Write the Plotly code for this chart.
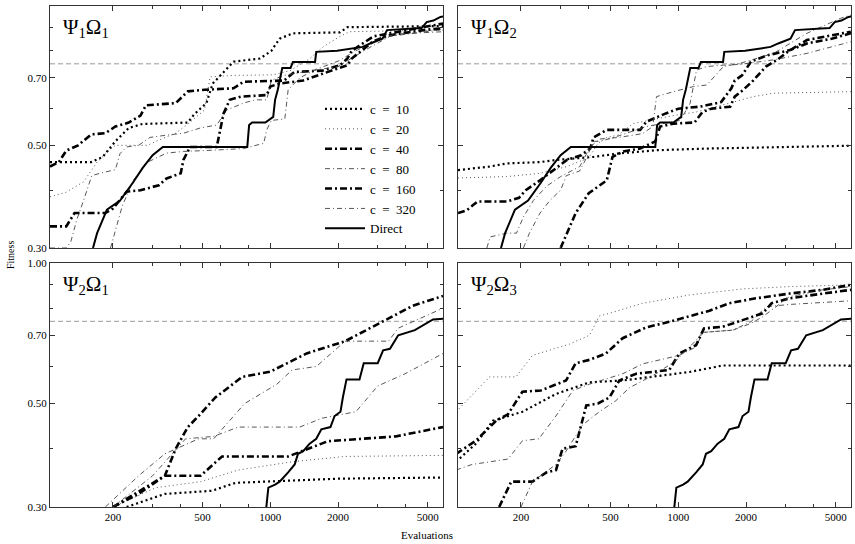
import plotly.graph_objects as go
import math

# ---------------- data ----------------
c_labels = ["c\u00a0\u00a0=\u00a0\u00a010", "c\u00a0\u00a0=\u00a0\u00a020", "c\u00a0\u00a0=\u00a0\u00a040",
            "c\u00a0\u00a0=\u00a0\u00a080", "c\u00a0\u00a0=\u00a0\u00a0160", "c\u00a0\u00a0=\u00a0\u00a0320"]
direct_label = "Direct"
panel_titles = ["Ψ<sub>1</sub>Ω<sub>1</sub>", "Ψ<sub>1</sub>Ω<sub>2</sub>",
                "Ψ<sub>2</sub>Ω<sub>1</sub>", "Ψ<sub>2</sub>Ω<sub>3</sub>"]
x_tick_vals = [200, 500, 1000, 2000, 5000]
x_minor_vals = [300, 400, 600, 800, 3000, 4000]
y_tick_vals = [0.3, 0.5, 0.7, 1.0]
y_tick_text = ["0.30", "0.50", "0.70", "1.00"]
y_minor_vals = [0.4, 0.6, 0.8, 0.9]
x_limits = [105, 5850]
y_limits = [0.3, 1.0]
threshold = 0.75

# Direct (depends only on Psi)
direct_psi1_x = [163, 170, 188, 215, 245, 271, 300, 333, 790, 805, 830, 950, 1030, 1050, 1080, 1130, 1230, 1260,
                 1580, 1600, 1980, 2250, 2570, 2780, 3150, 3300, 4700, 4950, 5300, 5700, 5900]
direct_psi1_y = [0.30, 0.323, 0.363, 0.38, 0.415, 0.447, 0.476, 0.496, 0.496, 0.553, 0.56, 0.56, 0.576, 0.627,
                 0.66, 0.735, 0.735, 0.757, 0.757, 0.796, 0.80, 0.808, 0.816, 0.83, 0.85, 0.887, 0.896, 0.923,
                 0.93, 0.947, 0.95]
direct_psi2_x = [960, 980, 1050, 1100, 1200, 1283, 1327, 1400, 1495, 1600, 1685, 1850, 1930, 2050, 2100, 2180,
                 2490, 2600, 3000, 3170, 3400, 3700, 4385, 5285, 5860]
direct_psi2_y = [0.30, 0.33, 0.335, 0.34, 0.356, 0.37, 0.39, 0.395, 0.41, 0.42, 0.44, 0.445, 0.47, 0.48, 0.515,
                 0.563, 0.563, 0.61, 0.61, 0.65, 0.655, 0.70, 0.718, 0.757, 0.76]

# Psi1 Omega1
p11_c10_x = [105, 160, 180, 205, 235, 270, 430, 460, 520, 555, 686, 900, 1010, 1100, 1260, 2040, 2200, 5900]
p11_c10_y = [0.46, 0.46, 0.472, 0.51, 0.545, 0.556, 0.56, 0.584, 0.617, 0.68, 0.758, 0.77, 0.80, 0.85, 0.873,
             0.877, 0.90, 0.905]
p11_c20_x = [105, 124, 148, 170, 190, 205, 285, 310, 380, 430, 510, 540, 686, 1032, 1225, 1500, 1722, 2043,
             2250, 5900]
p11_c20_y = [0.387, 0.396, 0.417, 0.46, 0.485, 0.50, 0.50, 0.51, 0.531, 0.556, 0.596, 0.703, 0.708, 0.71,
             0.725, 0.77, 0.817, 0.86, 0.88, 0.887]
p11_c40_x = [105, 115, 124, 140, 160, 185, 205, 235, 265, 280, 380, 430, 510, 686, 760, 1150, 1280, 1700, 2040,
             2200, 2300, 2873, 3400, 4790, 5900]
p11_c40_y = [0.45, 0.46, 0.487, 0.50, 0.528, 0.531, 0.549, 0.56, 0.58, 0.61, 0.617, 0.654, 0.659, 0.664, 0.686,
             0.69, 0.72, 0.725, 0.745, 0.77, 0.80, 0.86, 0.873, 0.90, 0.917]
p11_c80_x = [105, 124, 130, 138, 148, 161, 175, 205, 215, 230, 260, 292, 346, 411, 488, 578, 640, 760, 860, 964,
             1010, 1143, 1400, 2000, 2600, 3400, 5900]
p11_c80_y = [0.30, 0.30, 0.31, 0.345, 0.38, 0.43, 0.435, 0.443, 0.48, 0.496, 0.50, 0.52, 0.526, 0.531, 0.545,
             0.553, 0.596, 0.617, 0.627, 0.627, 0.69, 0.708, 0.72, 0.74, 0.80, 0.86, 0.89]
p11_c160_x = [105, 124, 135, 185, 200, 215, 230, 265, 320, 346, 400, 411, 440, 578, 600, 620, 660, 740, 964,
              1000, 1100, 1400, 1722, 2200, 2300, 2873, 3400, 4790, 5900]
p11_c160_y = [0.334, 0.334, 0.357, 0.357, 0.365, 0.381, 0.397, 0.40, 0.41, 0.424, 0.435, 0.465, 0.496, 0.496,
              0.54, 0.586, 0.627, 0.637, 0.642, 0.67, 0.68, 0.69, 0.715, 0.745, 0.77, 0.84, 0.865, 0.887, 0.896]
p11_c320_x = [195, 220, 246, 285, 346, 411, 555, 760, 935, 964, 1010, 1160, 1200, 1355, 1600, 2000, 2400, 2900,
              3600, 5900]
p11_c320_y = [0.30, 0.37, 0.42, 0.46, 0.481, 0.485, 0.488, 0.492, 0.505, 0.54, 0.566, 0.57, 0.659, 0.70, 0.73,
              0.76, 0.80, 0.84, 0.87, 0.88]

# Psi1 Omega2
p12_c10_x = [105, 146, 173, 243, 288, 420, 540, 802, 1338, 2650, 5840]
p12_c10_y = [0.442, 0.45, 0.457, 0.46, 0.465, 0.472, 0.48, 0.488, 0.492, 0.495, 0.499]
p12_c20_x = [105, 173, 243, 320, 400, 440, 481, 540, 630, 951, 1200, 1650, 2150, 2650, 5840]
p12_c20_y = [0.425, 0.428, 0.435, 0.45, 0.47, 0.505, 0.52, 0.526, 0.557, 0.58, 0.59, 0.616, 0.637, 0.648, 0.653]
p12_c40_x = [105, 115, 128, 173, 196, 210, 243, 275, 320, 370, 406, 420, 481, 677, 720, 880, 1000, 1250, 1550,
             1720, 1780, 1920, 2100, 2500, 3140, 3725, 4800, 5840]
p12_c40_y = [0.357, 0.362, 0.378, 0.378, 0.385, 0.40, 0.42, 0.44, 0.465, 0.476, 0.492, 0.52, 0.54, 0.54, 0.562,
             0.586, 0.60, 0.606, 0.62, 0.664, 0.69, 0.708, 0.758, 0.783, 0.803, 0.83, 0.85, 0.873]
p12_c80_x = [141, 146, 173, 191, 205, 227, 260, 300, 365, 406, 447, 544, 694, 770, 800, 951, 1170, 1338, 1587,
             1883, 2650, 3725, 5240, 5840]
p12_c80_y = [0.30, 0.317, 0.323, 0.323, 0.35, 0.38, 0.408, 0.428, 0.45, 0.496, 0.516, 0.52, 0.53, 0.549, 0.637,
             0.653, 0.67, 0.675, 0.74, 0.752, 0.79, 0.873, 0.94, 0.956]
p12_c160_x = [300, 320, 350, 400, 440, 481, 510, 570, 677, 790, 830, 951, 1180, 1280, 1400, 1700, 1780, 1950,
              2150, 2450, 2750, 3100, 3725, 4420, 5840]
p12_c160_y = [0.30, 0.323, 0.357, 0.394, 0.408, 0.42, 0.472, 0.485, 0.492, 0.51, 0.549, 0.557, 0.56, 0.59, 0.60,
              0.606, 0.637, 0.66, 0.69, 0.74, 0.765, 0.80, 0.844, 0.858, 0.88]
p12_c320_x = [205, 218, 243, 270, 300, 318, 364, 393, 420, 450, 518, 590, 720, 1020, 1128, 1205, 1338, 1587,
              1883, 2650, 3725, 5840]
p12_c320_y = [0.30, 0.323, 0.357, 0.381, 0.40, 0.43, 0.44, 0.472, 0.51, 0.51, 0.52, 0.531, 0.549, 0.566, 0.616,
              0.727, 0.74, 0.745, 0.748, 0.765, 0.79, 0.837]

# Psi2 Omega1
p21_c10_x = [230, 340, 550, 700, 2000, 5850]
p21_c10_y = [0.30, 0.32, 0.325, 0.338, 0.345, 0.347]
p21_c20_x = [200, 310, 490, 720, 1250, 2150, 5850]
p21_c20_y = [0.30, 0.33, 0.34, 0.36, 0.375, 0.385, 0.387]
p21_c40_x = [200, 260, 340, 380, 430, 480, 570, 750, 1000, 1450, 2150, 3000, 4300, 5850]
p21_c40_y = [0.30, 0.32, 0.35, 0.40, 0.445, 0.47, 0.515, 0.57, 0.585, 0.64, 0.68, 0.74, 0.81, 0.85]
p21_c80_x = [185, 260, 340, 480, 560, 770, 1070, 1250, 1600, 2150, 3350, 3700, 5850]
p21_c80_y = [0.30, 0.35, 0.39, 0.42, 0.42, 0.50, 0.55, 0.59, 0.60, 0.68, 0.68, 0.725, 0.80]
p21_c160_x = [200, 340, 490, 610, 1200, 1800, 3600, 5850]
p21_c160_y = [0.30, 0.35, 0.35, 0.385, 0.385, 0.415, 0.425, 0.445]
p21_c320_x = [200, 300, 420, 560, 720, 1350, 1700, 2400, 3000, 4000, 5850]
p21_c320_y = [0.30, 0.35, 0.42, 0.425, 0.445, 0.445, 0.465, 0.48, 0.545, 0.58, 0.64]

# Psi2 Omega3
p23_c10_x = [103, 126, 150, 203, 286, 403, 566, 743, 1120, 1575, 5860]
p23_c10_y = [0.375, 0.41, 0.459, 0.48, 0.524, 0.555, 0.56, 0.57, 0.584, 0.603, 0.603]
p23_c20_x = [103, 125, 145, 190, 225, 328, 403, 446, 494, 695, 1120, 1930, 3120, 5860]
p23_c20_y = [0.48, 0.53, 0.57, 0.57, 0.634, 0.67, 0.70, 0.77, 0.78, 0.82, 0.854, 0.88, 0.89, 0.898]
p23_c40_x = [103, 126, 155, 175, 203, 245, 317, 350, 403, 477, 566, 720, 912, 1120, 1375, 1685, 2210, 3120,
             4385, 5860]
p23_c40_y = [0.39, 0.416, 0.459, 0.474, 0.53, 0.533, 0.56, 0.61, 0.62, 0.64, 0.69, 0.728, 0.748, 0.77, 0.79,
             0.82, 0.84, 0.86, 0.876, 0.898]
p23_c80_x = [103, 121, 175, 203, 240, 286, 340, 403, 566, 695, 1010, 1200, 1283, 1575, 1745, 2100, 2455, 3120,
             5860]
p23_c80_y = [0.36, 0.37, 0.38, 0.416, 0.42, 0.47, 0.533, 0.55, 0.579, 0.608, 0.634, 0.661, 0.71, 0.714, 0.718,
             0.748, 0.806, 0.815, 0.83]
p23_c160_x = [160, 181, 225, 260, 286, 306, 350, 390, 440, 494, 547, 650, 912, 1010, 1200, 1300, 1575, 2000,
              2370, 2600, 3120, 4385, 5860]
p23_c160_y = [0.30, 0.34, 0.34, 0.356, 0.36, 0.40, 0.405, 0.495, 0.50, 0.515, 0.56, 0.579, 0.59, 0.64, 0.667,
              0.724, 0.73, 0.76, 0.78, 0.82, 0.84, 0.86, 0.876]
p23_c320_x = [200, 225, 286, 317, 376, 446, 528, 605, 796, 977, 1200, 1283, 1745, 2100, 2370, 2715, 3120, 4385,
              5860]
p23_c320_y = [0.30, 0.34, 0.37, 0.395, 0.45, 0.48, 0.507, 0.54, 0.579, 0.618, 0.683, 0.71, 0.718, 0.742, 0.767,
              0.806, 0.847, 0.876, 0.89]

panels = [
    [(p11_c10_x, p11_c10_y), (p11_c20_x, p11_c20_y), (p11_c40_x, p11_c40_y), (p11_c80_x, p11_c80_y),
     (p11_c160_x, p11_c160_y), (p11_c320_x, p11_c320_y), (direct_psi1_x, direct_psi1_y)],
    [(p12_c10_x, p12_c10_y), (p12_c20_x, p12_c20_y), (p12_c40_x, p12_c40_y), (p12_c80_x, p12_c80_y),
     (p12_c160_x, p12_c160_y), (p12_c320_x, p12_c320_y), (direct_psi1_x, direct_psi1_y)],
    [(p21_c10_x, p21_c10_y), (p21_c20_x, p21_c20_y), (p21_c40_x, p21_c40_y), (p21_c80_x, p21_c80_y),
     (p21_c160_x, p21_c160_y), (p21_c320_x, p21_c320_y), (direct_psi2_x, direct_psi2_y)],
    [(p23_c10_x, p23_c10_y), (p23_c20_x, p23_c20_y), (p23_c40_x, p23_c40_y), (p23_c80_x, p23_c80_y),
     (p23_c160_x, p23_c160_y), (p23_c320_x, p23_c320_y), (direct_psi2_x, direct_psi2_y)],
]

# ---------------- styles ----------------
W, H = 855, 544
styles = [
    dict(color="#000", width=2.2, dash="2px,3px"),          # c=10 thick dotted
    dict(color="#555", width=1.0, dash="1px,3px"),          # c=20 thin dotted
    dict(color="#000", width=2.6, dash="7px,3px,2px,3px"),  # c=40 thick dash-dot
    dict(color="#444", width=0.9, dash="5px,3px,1px,3px"),  # c=80 thin dash-dot
    dict(color="#000", width=2.6, dash="7px,3px,2px,3px"),  # c=160 thick dash-dot
    dict(color="#444", width=0.9, dash="5px,3px,1px,3px"),  # c=320 thin dash-dot
    dict(color="#000", width=2.0, dash="solid"),            # Direct
]
names = c_labels + [direct_label]


def px(v):
    return v / W


def py(v):
    return 1 - v / H


xdomains = [[px(50), px(443)], [px(458), px(851)], [px(50), px(443)], [px(458), px(851)]]
ydomains = [[py(248), py(6)], [py(248), py(6)], [py(507), py(263)], [py(507), py(263)]]

FONT = "Liberation Serif"
fig = go.Figure()

for i, series in enumerate(panels):
    xa = "x" if i == 0 else f"x{i+1}"
    ya = "y" if i == 0 else f"y{i+1}"
    fig.add_trace(go.Scatter(x=x_limits, y=[threshold, threshold], mode="lines", xaxis=xa, yaxis=ya,
                             line=dict(color="#9a9a9a", width=1, dash="5px,3px"), showlegend=False,
                             hoverinfo="skip"))
    for j, (xs, ys) in enumerate(series):
        fig.add_trace(go.Scatter(x=xs, y=ys, mode="lines", xaxis=xa, yaxis=ya, name=names[j],
                                 line=styles[j], showlegend=(i == 0)))

axis_common = dict(showline=True, linecolor="#333", linewidth=1, mirror="ticks", ticks="inside",
                   ticklen=5, tickcolor="#333", showgrid=False, zeroline=False, automargin=False,
                   tickfont=dict(family=FONT, size=11, color="#000"))
layout = {}
for i in range(4):
    sx = "xaxis" if i == 0 else f"xaxis{i+1}"
    sy = "yaxis" if i == 0 else f"yaxis{i+1}"
    ya = "y" if i == 0 else f"y{i+1}"
    xa = "x" if i == 0 else f"x{i+1}"
    layout[sx] = dict(axis_common, type="log", domain=xdomains[i], anchor=ya,
                      range=[math.log10(x_limits[0]), math.log10(x_limits[1])],
                      tickmode="array", tickvals=x_tick_vals, ticktext=[str(v) for v in x_tick_vals],
                      showticklabels=(i >= 2),
                      minor=dict(tickmode="array", tickvals=x_minor_vals, ticks="inside", ticklen=3,
                                 tickcolor="#333"))
    layout[sy] = dict(axis_common, type="log", domain=ydomains[i], anchor=xa,
                      range=[math.log10(y_limits[0]), math.log10(y_limits[1])],
                      tickmode="array", tickvals=y_tick_vals, ticktext=y_tick_text,
                      showticklabels=(i % 2 == 0),
                      minor=dict(tickmode="array", tickvals=y_minor_vals, ticks="inside", ticklen=3,
                                 tickcolor="#333"))

annotations = []
for i, t in enumerate(panel_titles):
    xa = "x" if i == 0 else f"x{i+1}"
    ya = "y" if i == 0 else f"y{i+1}"
    annotations.append(dict(text=t, xref=f"{xa} domain", yref=f"{ya} domain", x=0.028, y=0.97,
                            xanchor="left", yanchor="top", showarrow=False,
                            font=dict(family=FONT, size=21, color="#000")))
annotations.append(dict(text="Fitness", xref="paper", yref="paper", x=px(10), y=py(255), textangle=-90,
                        xanchor="center", yanchor="middle",
                        showarrow=False, font=dict(family=FONT, size=10, color="#000")))
annotations.append(dict(text="Evaluations", xref="paper", yref="paper", x=px(427), y=py(535),
                        xanchor="center", yanchor="middle",
                        showarrow=False, font=dict(family=FONT, size=11, color="#000")))

fig.update_layout(**layout)
fig.update_layout(
    width=W, height=H, margin=dict(l=0, r=0, t=0, b=0),
    paper_bgcolor="white", plot_bgcolor="white",
    annotations=annotations,
    legend=dict(x=px(320), y=py(94), xanchor="left", yanchor="top", bgcolor="rgba(255,255,255,0)",
                font=dict(family=FONT, size=13, color="#000"), itemwidth=40, tracegroupgap=0),
    showlegend=True,
)
fig.write_html("out.html")
